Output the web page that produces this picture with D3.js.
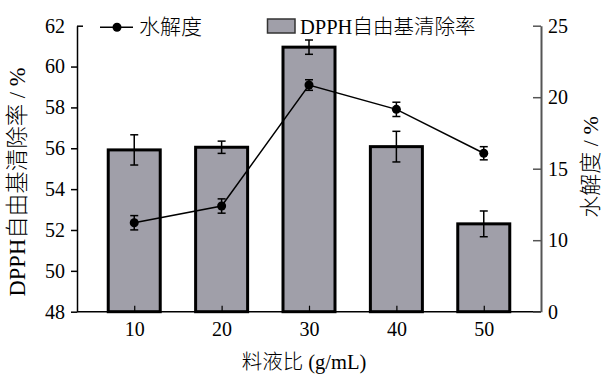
<!DOCTYPE html>
<html><head><meta charset="utf-8">
<script src="https://cdn.jsdelivr.net/npm/d3@7"></script>
<style>body{margin:0;background:#fff}svg{display:block}text{font-family:"Liberation Serif","Times New Roman","Noto Sans CJK SC",serif;fill:#000}.cjk{font-weight:300}</style>
</head><body>
<script>
const categories = ["10","20","30","40","50"];
const dpphValues = [55.92, 56.05, 60.95, 56.08, 52.3];
const dpphErrors = [0.74, 0.3, 0.35, 0.75, 0.63];
const hydroValues = [11.22, 12.39, 20.85, 19.15, 16.08];
const hydroErrors = [0.5, 0.5, 0.37, 0.5, 0.46];
const leftTicks = [48,50,52,54,56,58,60,62];
const rightTickValues = [5,10,15,20,25];
const rightTickLabels = ["0","10","15","20","25"];
const xTitle = "料液比 (g/mL)";
const yLeftTitle = "DPPH自由基清除率 / %";
const yRightTitle = "水解度 / %";
const legendLine = "水解度";
const legendBar = "DPPH自由基清除率";

const W=606,H=376, L=77, R=541, T=25.7, B=311.7;
const svg=d3.select("body").append("svg").attr("width",W).attr("height",H);
const x=d3.scalePoint().domain(categories).range([L,R]).padding(0.655);
const yL=d3.scaleLinear().domain([48,62]).range([B,T]);
const yR=d3.scaleLinear().domain([5,25]).range([B,T]);
const barW=52, barFill="#a09fa9";
const serif='"Liberation Serif","Times New Roman",serif';

svg.selectAll("rect.bar").data(categories).join("rect")
  .attr("x",d=>x(d)-barW/2).attr("width",barW)
  .attr("y",(d,i)=>yL(dpphValues[i])).attr("height",(d,i)=>yL(48)-yL(dpphValues[i]))
  .attr("fill",barFill).attr("stroke","#000").attr("stroke-width",3);

function errBar(g, cx, yTop, yBot){
  g.append("line").attr("x1",cx).attr("x2",cx).attr("y1",yTop).attr("y2",yBot).attr("stroke","#000").attr("stroke-width",1.5);
  [yTop,yBot].forEach(yy=>g.append("line").attr("x1",cx-4).attr("x2",cx+4).attr("y1",yy).attr("y2",yy).attr("stroke","#000").attr("stroke-width",1.5));
}
const eg=svg.append("g");
categories.forEach((c,i)=>errBar(eg,x(c),yL(dpphValues[i]+dpphErrors[i]),yL(dpphValues[i]-dpphErrors[i])));

const line=d3.line().x((d,i)=>x(categories[i])).y(d=>yR(d));
svg.append("path").datum(hydroValues).attr("d",line).attr("fill","none").attr("stroke","#000").attr("stroke-width",1.5);
categories.forEach((c,i)=>errBar(eg,x(c),yR(hydroValues[i]+hydroErrors[i]),yR(hydroValues[i]-hydroErrors[i])));
svg.selectAll("circle.pt").data(hydroValues).join("circle")
  .attr("cx",(d,i)=>x(categories[i])).attr("cy",d=>yR(d)).attr("r",4.5).attr("fill","#000");

const left=svg.append("g").attr("transform",`translate(${L},0)`)
  .call(d3.axisLeft(yL).tickValues(leftTicks).tickSize(6).tickSizeOuter(0).tickPadding(6));
left.select(".domain").attr("stroke-width",1.5);
left.selectAll(".tick line").attr("stroke-width",1.5).attr("x2",d=>d===62?6:-6);
left.selectAll("text").attr("font-size",20).style("font-family",serif);

const bottom=svg.append("g").attr("transform",`translate(0,${B})`)
  .call(d3.axisBottom(x).tickSize(0).tickPadding(10));
bottom.select(".domain").attr("stroke-width",1.5).attr("d",`M${L},0H${R}`);
bottom.selectAll(".tick line").attr("y2",-6).attr("stroke-width",1.2);
bottom.selectAll("text").attr("font-size",20).style("font-family",serif);

const right=svg.append("g").attr("transform",`translate(${R},0)`)
  .call(d3.axisRight(yR).tickValues(rightTickValues).tickFormat((d,i)=>rightTickLabels[i]).tickSize(0).tickSizeOuter(0).tickPadding(7));
right.select(".domain").attr("stroke","#555").attr("stroke-width",2);
right.selectAll(".tick line").attr("x2",-8).attr("stroke","#555").attr("stroke-width",1.5);
right.selectAll("text").attr("font-size",20).style("font-family",serif);

svg.append("text").attr("class","cjk").attr("x",304).attr("y",369).attr("text-anchor","middle").attr("font-size",20.5).text(xTitle);
svg.append("text").attr("class","cjk").attr("transform",`translate(25,182) rotate(-90)`).attr("text-anchor","middle").attr("font-size",22.5).text(yLeftTitle);
svg.append("text").attr("class","cjk").attr("transform",`translate(598,167) rotate(-90)`).attr("text-anchor","middle").attr("font-size",22).text(yRightTitle);

svg.append("line").attr("x1",100).attr("x2",133).attr("y1",27.3).attr("y2",27.3).attr("stroke","#000").attr("stroke-width",1.5);
svg.append("circle").attr("cx",117).attr("cy",27.3).attr("r",4.5).attr("fill","#000");
svg.append("text").attr("class","cjk").attr("x",139).attr("y",34).attr("font-size",21).text(legendLine);
svg.append("rect").attr("x",267.5).attr("y",19).attr("width",27.5).attr("height",14).attr("fill",barFill).attr("stroke","#333").attr("stroke-width",1.5);
svg.append("text").attr("class","cjk").attr("x",300).attr("y",34).attr("font-size",20.5).text(legendBar);
</script>
</body></html>
